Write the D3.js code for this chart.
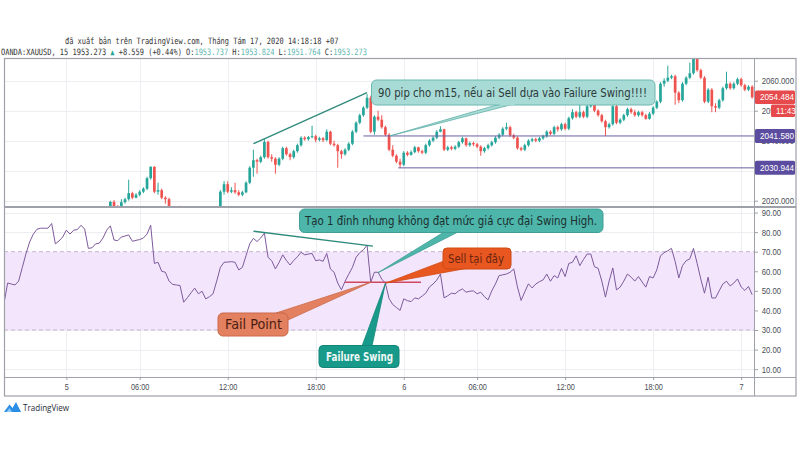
<!DOCTYPE html>
<html><head><meta charset="utf-8">
<script src="https://cdn.jsdelivr.net/npm/d3@7"></script>
<style>body{margin:0;background:#fff;}svg{display:block;}</style>
</head><body><svg id="c" width="800" height="450"></svg>
<script>
// ---------------- DATA ----------------
const opens = [1999,1998,2001,2000.8,2000.5,2001.5,2003.5,2006,2008.5,2010,2011,2011.5,2011.8,2012,2013.5,2011.5,2012,2012.8,2014,2013.5,2014.3,2014.6,2015.5,2015,2012.5,2012.7,2013.3,2013.5,2014.5,
2017,2019.6,2018,2017.8,2019.5,2020.5,2022.5,2021,2022,2023,2024,2027.5,2031.3,2023,2023.5,2021,2020.5,2017.5,2016.5,2016,2015.8,2011,2012,2013,2014,2012.5,2013,2011,2011.5,2012.5,
2016,2023,2025.5,2023,2023.5,2022.8,2022,2022.8,2026,2031,2033.5,2033,2034.5,2039.6,2034.5,2034,2032,2034,2037.5,2035.5,2034.5,2036.5,2038.5,2041,2040.5,2041.2,2041.5,2040.3,2040.8,2040.2,2043,2039,2038.5,2036.5,2035.5,2037,2039,2043,2046,2048.5,2051,
2054.3,2043,2048,2047,2044.5,2042,2037,2035,2033,2032,2036,2035.3,2036.2,2037.8,2036.5,2036,2038.5,2040,2041,2043,2043.8,2037,2037.8,2037.3,2038,2039.5,2040.8,2038.5,2039.2,2038.8,2038,2036.5,2037.5,2038.5,2039.5,2041,2042,2044,2044.5,2041.8,
2041,2037.5,2037,2038.5,2040,2040.5,2040,2040.8,2041.5,2043,2042.3,2044.5,2043.8,2045.5,2044,2047.5,2049.5,2048,2049.5,2048,2051.5,2053.5,2050,2048.5,2046.5,2044.5,2045.5,2051.5,2046,2047,2048.5,2050.5,2049.5,2048.5,2049.5,2048.5,2047.3,2049,2051,2053,
2059,2060,2061,2061.5,2056,2053.5,2059,2061,2062.5,2068,2063.5,2061,2053,2057,2051.5,2051,2053.5,2057.5,2059,2057.5,2059,2060.5,2058.5,2057,2058];
const highs = [1999.6,2001.6,2001.6,2001.4,2002.1,2004.1,2006.6,2009.1,2010.6,2011.6,2012.1,2012.4,2012.6,2014.1,2014.1,2012.6,2013.4,2014.6,2014.6,2014.9,2015.2,2016.1,2016.1,2015.6,2013.3,2013.9,2014.1,2015.1,2017.6,
2020,2020.2,2018.5,2020.5,2021,2027,2023,2022.5,2023.5,2024.5,2028,2031.5,2031.5,2026,2024,2021.5,2021,2018.2,2017,2018.3,2016.2,2012.5,2013.5,2014.5,2014.5,2013.5,2013.5,2012,2013,2016.5,
2023.5,2026.5,2026.5,2024.5,2026,2023.5,2023.3,2026.5,2031.5,2037,2034,2035,2040.5,2040,2035.5,2034.5,2034.5,2038,2038,2036,2037,2039,2041.5,2041.5,2041.6,2045,2042,2041.3,2041.2,2043.8,2043.3,2040,2039,2037,2037.5,2039.5,2043.5,2046.5,2049,2051.5,2055.5,
2055,2048.5,2050,2048.5,2045,2042.5,2038.5,2035.5,2034,2036.5,2036.5,2036.8,2038.3,2038,2037,2039,2040.5,2041.5,2043.5,2044.8,2044,2038.3,2038.3,2038.5,2040,2041.3,2041,2039.7,2039.7,2039.3,2038.5,2038,2039,2040,2041.5,2042.5,2044.5,2046,2045,2042.3,
2041.5,2038,2039,2040.5,2041,2041,2041.3,2042,2043.5,2043.5,2045,2045,2046,2046,2048,2050.5,2050,2052,2050,2054.6,2054,2054,2050.5,2049,2047,2046,2052,2052,2047.5,2049,2051,2051,2050.3,2050,2050,2049,2049.5,2051.5,2053.5,2059.5,
2060.8,2065,2062,2062,2056.5,2059.5,2061.5,2066,2069,2069,2064,2061.5,2057.5,2057.5,2052.5,2054,2058,2063,2059.5,2059.5,2061,2061,2059,2058.5,2058.5];
const lows = [1997.4,1997.4,2000.2,1999.9,1999.9,2000.9,2002.9,2005.4,2007.9,2009.4,2010.4,2010.9,2011.2,2011.4,2010.9,2010.9,2011.4,2012.2,2012.9,2012.9,2013.7,2014,2014.4,2011.9,2011.9,2012.1,2012.7,2012.9,2013.9,
2016.5,2017.5,2016.5,2017.5,2019,2020,2020.5,2020.8,2021.5,2022.5,2023.5,2027,2022.5,2022,2020.5,2019,2016.5,2015,2015.5,2015.3,2010.5,2010.5,2011.5,2012.5,2012,2012,2010.5,2010.5,2011,2012,
2015.5,2022,2022.5,2022.5,2022.3,2021.5,2021.5,2022.5,2025.5,2028,2029,2032.5,2034,2034,2033,2029,2031.5,2033.5,2035,2033.5,2034,2036,2038,2040,2040,2040.8,2039.5,2039.8,2039.5,2039.8,2038.5,2038,2031,2034,2035,2036.5,2038.5,2042.5,2045.5,2048,2050.5,
2042.5,2042,2046.5,2044,2041.5,2036.5,2034.5,2032.5,2030.9,2031.5,2034.8,2035,2035.8,2036,2035.5,2035.5,2038,2039.5,2040.5,2042.8,2036.5,2036.5,2036.8,2036.8,2037.5,2039,2038,2038,2038.2,2037.5,2035,2036,2037,2038,2039,2040.5,2041.5,2043.5,2041.3,2040.5,
2037,2036.5,2036.5,2038,2039.5,2039.5,2039.5,2040.3,2041,2041.8,2041.8,2043,2043.3,2043.5,2043.5,2047,2047.5,2047.5,2047.5,2047.5,2051,2049.5,2048,2046,2041.6,2044,2045,2045.5,2045.5,2046.5,2048,2049,2048,2048,2048,2047,2047,2048.5,2050.5,2052.5,
2058,2059.5,2060.5,2052,2052.5,2053,2058.5,2060.5,2062,2063,2060.5,2052.5,2052.5,2049.5,2049.5,2050.5,2053,2057,2057,2057,2058.5,2058,2056.5,2056.5,2054];
const closes = [1998,2001,2000.8,2000.5,2001.5,2003.5,2006,2008.5,2010,2011,2011.5,2011.8,2012,2013.5,2011.5,2012,2012.8,2014,2013.5,2014.3,2014.6,2015.5,2015,2012.5,2012.7,2013.3,2013.5,2014.5,2017,
2019.6,2018,2017.8,2019.5,2020.5,2022.5,2021,2022,2023,2024,2027.5,2031.3,2023,2023.5,2021,2020.5,2017.5,2016.5,2016,2015.8,2011,2012,2013,2014,2012.5,2013,2011,2011.5,2012.5,2016,
2023,2025.5,2023,2023.5,2022.8,2022,2022.8,2026,2031,2033.5,2033,2034.5,2039.6,2034.5,2034,2032,2034,2037.5,2035.5,2034.5,2036.5,2038.5,2041,2040.5,2041.2,2041.5,2040.3,2040.8,2040.2,2043,2039,2038.5,2036.5,2035.5,2037,2039,2043,2046,2048.5,2051,2054.3,
2043,2048,2047,2044.5,2042,2037,2035,2033,2032,2036,2035.3,2036.2,2037.8,2036.5,2036,2038.5,2040,2041,2043,2043.8,2037,2037.8,2037.3,2038,2039.5,2040.8,2038.5,2039.2,2038.8,2038,2036.5,2037.5,2038.5,2039.5,2041,2042,2044,2044.5,2041.8,2041,
2037.5,2037,2038.5,2040,2040.5,2040,2040.8,2041.5,2043,2042.3,2044.5,2043.8,2045.5,2044,2047.5,2049.5,2048,2049.5,2048,2051.5,2053.5,2050,2048.5,2046.5,2044.5,2045.5,2051.5,2046,2047,2048.5,2050.5,2049.5,2048.5,2049.5,2048.5,2047.3,2049,2051,2053,2059,
2060,2061,2061.5,2056,2053.5,2059,2061,2062.5,2068,2063.5,2061,2053,2057,2051.5,2051,2053.5,2057.5,2059,2057.5,2059,2060.5,2058.5,2057,2058,2054.484];
const rsiValues = [43.7,54,53.5,53,55,62,69,75,79,81.5,82,82,82,84.4,74,75.5,77.5,81,79,81,
81.3,83.5,81.5,71.7,72,74,74.4,77,81,83.2,76,75.6,77.5,78,78.6,75.3,75.8,76.2,77,79,
83.5,64,64.6,60,59.5,55,53.3,53,52.7,44.2,46.5,49,51.4,48.5,49.8,45.9,47,48.5,55,62,
64.6,64.7,64.9,64.6,60.7,62,68,74,76.8,75.2,77,79.5,67.1,65.4,61.2,64.5,68.4,65.5,63.2,65.5,
67.4,69.7,68.4,68.8,69.1,65.4,65.8,65.1,69.1,61.2,59.5,54,50.5,54.9,58.5,62,67.1,69.5,71,73.3,
54.4,59.5,59.5,56,53.9,46,43,41.5,40,45.9,45,44.5,46.4,45.9,47.3,48.8,52,53.5,55.5,58.6,
46.4,47.5,48.8,48.5,50,51,49.3,49.8,50,48.5,49.3,47,45.4,50,53.5,57.8,58.2,58.6,59.5,61.2,
52,45.1,49.5,53.6,51.5,53.5,54.7,55.6,58.6,54.9,57.8,56.6,61.5,57.3,64,64.6,67.9,62.9,66,68.8,
68.8,62.3,61.5,55,46.8,55,61.7,50.5,51.9,55,58.6,57,55,57.3,54.5,51.9,57.3,56.6,60.7,67.9,
69.5,70.5,71.7,65,56.6,62.9,65.4,66.3,71.7,64,56,48.8,57,46.4,46.3,50,53.5,54.9,52.5,54,
56.1,52,50.2,52.2,48];
const timeTickIndex = [17,37,61,85,109,129,153,177,201];
const timeTickLabels = ["5","06:00","12:00","18:00","6","06:00","12:00","18:00","7"];
const priceTicks = [2020,2030,2040,2050,2060];
const rsiTicks = [10,20,30,40,50,60,70,80,90];
const rsiBand = [30,70];
const levelPrices = [2041.580,2030.944];
const levelStartIndex = [98,107.5];
const lastPrice = 2054.484;
const countdown = "11:43";
const priceTrend = [[68,2039],[99,2056]];
const rsiTrend = [[68,80.5],[100.6,72.9]];
const sellLine = [[93,54.4],[113.7,54.4]];
const headerLine1 = "đã xuất bản trên TradingView.com, Tháng Tám 17, 2020 14:18:18 +07";
const headerParts = [["OANDA:XAUUSD, 15 1953.273 ","#333"],["▲","#26a69a"],[" +8.559 (+0.44%) O:","#333"],["1953.737","#5fb8b0"],[" H:","#333"],["1953.824","#5fb8b0"],[" L:","#333"],["1951.764","#5fb8b0"],[" C:","#333"],["1953.273","#5fb8b0"]];

// ---------------- LAYOUT ----------------
const svg = d3.select("#c");
const L = 4, R = 754, RF = 796, PT = 58.5, PB = 207, RT = 207, RB = 377, TB = 396;
const x = d3.scaleLinear().domain([0, 204.5]).range([L, R]);
const yP = d3.scaleLinear().domain([2020, 2060]).range([200.7, 80.7]);
const yR = d3.scaleLinear().domain([30, 70]).range([330, 251.7]);
const UP = "#26a69a", DN = "#ef5350";

const defs = svg.append("defs");
defs.append("clipPath").attr("id","cp").append("rect").attr("x",L).attr("y",PT).attr("width",R-L).attr("height",PB-PT);
defs.append("clipPath").attr("id","cr").append("rect").attr("x",L).attr("y",RT).attr("width",R-L).attr("height",RB-RT);

// header
const h1 = svg.append("g").attr("transform","translate(65,43.5) scale(0.8,1)");
h1.append("text").attr("font-family","DejaVu Sans Mono").attr("font-size",8.75).attr("fill","#333").text(headerLine1);
const h2 = svg.append("g").attr("transform","translate(1,55) scale(0.8,1)")
  .append("text").attr("font-family","DejaVu Sans Mono").attr("font-size",8.75).attr("xml:space","preserve");
headerParts.forEach(p => h2.append("tspan").attr("fill",p[1]).text(p[0]));

// grids
const grid = svg.append("g").attr("stroke","#eceef2").attr("stroke-width",1);
priceTicks.forEach(v => grid.append("line").attr("x1",L).attr("x2",R).attr("y1",Math.round(yP(v))+0.5).attr("y2",Math.round(yP(v))+0.5));
rsiTicks.forEach(v => grid.append("line").attr("x1",L).attr("x2",R).attr("y1",Math.round(yR(v))+0.5).attr("y2",Math.round(yR(v))+0.5));
timeTickIndex.forEach(i => grid.append("line").attr("x1",Math.round(x(i))+0.5).attr("x2",Math.round(x(i))+0.5).attr("y1",PT).attr("y2",RB));

// RSI band
const rg = svg.append("g").attr("clip-path","url(#cr)");
rg.append("rect").attr("x",L).attr("width",R-L).attr("y",yR(rsiBand[1])).attr("height",yR(rsiBand[0])-yR(rsiBand[1])).attr("fill","#f3e6fc");
rsiBand.forEach(v => rg.append("line").attr("x1",L).attr("x2",R).attr("y1",yR(v)).attr("y2",yR(v))
  .attr("stroke","#c3b4cc").attr("stroke-dasharray","4,3"));

// candles
const cg = svg.append("g").attr("clip-path","url(#cp)");
const idx = d3.range(closes.length);
cg.selectAll("line.w").data(idx).join("line").attr("class","w")
  .attr("x1",i=>x(i)).attr("x2",i=>x(i)).attr("y1",i=>yP(highs[i])).attr("y2",i=>yP(lows[i]))
  .attr("stroke",i=>closes[i]>=opens[i]?UP:DN).attr("stroke-width",1);
cg.selectAll("rect.b").data(idx).join("rect").attr("class","b")
  .attr("x",i=>x(i)-1.35).attr("width",2.7)
  .attr("y",i=>yP(Math.max(opens[i],closes[i])))
  .attr("height",i=>Math.max(1,Math.abs(yP(opens[i])-yP(closes[i]))))
  .attr("fill",i=>closes[i]>=opens[i]?UP:DN);

// horizontal levels
levelPrices.forEach((p,k) => svg.append("line").attr("x1",x(levelStartIndex[k])).attr("x2",R)
  .attr("y1",yP(p)).attr("y2",yP(p)).attr("stroke","#6b5fa3").attr("stroke-width",1));

// price trendline
svg.append("line").attr("x1",x(priceTrend[0][0])).attr("y1",yP(priceTrend[0][1]))
  .attr("x2",x(priceTrend[1][0])).attr("y2",yP(priceTrend[1][1])).attr("stroke","#2f8a7c").attr("stroke-width",1.3);

// RSI line
rg.append("path").datum(idx).attr("fill","none").attr("stroke","#7d5a9c").attr("stroke-width",1)
  .attr("d", d3.line().x(i=>x(i)).y(i=>yR(rsiValues[i])));
svg.append("line").attr("x1",x(rsiTrend[0][0])).attr("y1",yR(rsiTrend[0][1]))
  .attr("x2",x(rsiTrend[1][0])).attr("y2",yR(rsiTrend[1][1])).attr("stroke","#2f8a7c").attr("stroke-width",1.3);
svg.append("line").attr("x1",x(sellLine[0][0])).attr("y1",yR(sellLine[0][1]))
  .attr("x2",x(sellLine[1][0])).attr("y2",yR(sellLine[1][1])).attr("stroke","#d04860").attr("stroke-width",1.6);

// callouts
function wedge(pts, fill, stroke){
  svg.append("polygon").attr("points",pts.map(p=>p.join(",")).join(" "))
    .attr("fill",fill).attr("stroke",stroke).attr("stroke-width",0.8).attr("stroke-linejoin","round");
}
function box(x0,y0,x1,y1,fill,stroke,rx){
  svg.append("rect").attr("x",x0).attr("y",y0).attr("width",x1-x0).attr("height",y1-y0).attr("rx",rx)
    .attr("fill",fill).attr("stroke",stroke).attr("stroke-width",1);
}
function label(tx,ty,str,size,fill,len,weight){
  svg.append("text").attr("x",tx).attr("y",ty).attr("font-family","DejaVu Sans").attr("font-size",size)
    .attr("font-weight",weight||"normal").attr("fill",fill).attr("textLength",len).attr("lengthAdjust","spacingAndGlyphs").text(str);
}
// callout 1
wedge([[500,104],[514,104],[x(105.2),yP(2041.58)]],"#a9dbd6","#5fb0a8");
box(371.5,80,655,105,"#a9dbd6","#6ab8b0",5);
svg.append("rect").attr("x",499.5).attr("y",103).attr("width",15).attr("height",2.5).attr("fill","#a9dbd6");
label(378,96.5,"90 pip cho m15, nếu ai Sell dựa vào Failure Swing!!!!",12,"#2b3a3a",269);
// callout 2
wedge([[444,232],[458,232],[x(102),yR(59.3)]],"#4db5aa","#3f9f95");
box(299.5,209,603,232.5,"#4db5aa","#3f9f95",5);
label(305,225,"Tạo 1 đỉnh nhưng không đạt mức giá cực đại Swing High.",12,"#1b2f2e",292);
// sell
wedge([[444,261],[466,268.5],[x(104),yR(53.9)]],"#e8571f","#d04a16");
box(443,248,511,269,"#e8571f","#cf4a15",4);
label(448,262.5,"Sell tại đây",11.5,"#6a2411",56);
// fail point
wedge([[276,313],[288,320],[x(100),yR(54.4)]],"#e3805f","#c9694a");
box(218,313,288,336,"#e3805f","#c9694a",5);
label(225,329,"Fail Point",14,"#4b1d12",57);
// failure swing
wedge([[362,346],[372,346],[x(104),yR(53.9)]],"#189a8b","#12867a");
box(319,345.5,399,367.5,"#189a8b","#12867a",4);
label(326,361,"Failure Swing",12,"#eef8f6",67,"bold");

// frame
const fr = svg.append("g").attr("fill","none").attr("stroke","#9ea1a9");
fr.append("rect").attr("x",L+0.5).attr("y",PT).attr("width",RF-L-0.5).attr("height",TB-PT).attr("stroke-width",1.2);
fr.append("line").attr("x1",R+0.5).attr("x2",R+0.5).attr("y1",PT).attr("y2",TB);
fr.append("line").attr("x1",L).attr("x2",RF).attr("y1",PB).attr("y2",PB).attr("stroke-width",2);
fr.append("line").attr("x1",L).attr("x2",RF).attr("y1",RB+0.5).attr("y2",RB+0.5);

// axes
const axFont = g => { g.select(".domain").remove(); g.selectAll("line").attr("stroke","#9ea1a9");
  g.selectAll("text").attr("font-family","Liberation Sans").attr("font-size",9).attr("fill","#4a4d55"); };
const pAx = svg.append("g").attr("transform",`translate(${R},0)`)
  .call(d3.axisRight(yP).tickValues(priceTicks).tickFormat(d3.format(".3f")).tickSize(4).tickPadding(4)).call(axFont);
pAx.selectAll("text").attr("transform","scale(0.86,1)").attr("x",9);
const rAx = svg.append("g").attr("transform",`translate(${R},0)`)
  .call(d3.axisRight(yR).tickValues(rsiTicks).tickFormat(d3.format(".2f")).tickSize(4).tickPadding(4)).call(axFont);
rAx.selectAll("text").attr("transform","scale(0.86,1)").attr("x",9);
const tAx = svg.append("g").attr("transform",`translate(0,${RB})`)
  .call(d3.axisBottom(x).tickValues(timeTickIndex).tickFormat((d,k)=>timeTickLabels[k]).tickSize(3).tickPadding(4)).call(axFont);
tAx.selectAll("text").attr("transform","scale(0.82,1)");

// price tags
function tag(x0,yc,w,hgt,fill,str){
  svg.append("rect").attr("x",x0).attr("y",yc-hgt/2).attr("width",w).attr("height",hgt).attr("rx",1.5).attr("fill",fill);
  svg.append("g").attr("transform",`translate(${x0+5},${yc+3.2}) scale(0.86,1)`).append("text")
    .attr("font-family","Liberation Sans").attr("font-size",9.5).attr("fill","#fff").text(str);
}
tag(R+1, yP(lastPrice), 40, 13.5, "#e64a4c", d3.format(".3f")(lastPrice));
tag(R+17, yP(lastPrice)+13.5, 24, 12.5, "#e64a4c", countdown);
levelPrices.forEach(p => tag(R+1, yP(p), 40, 14, "#5b4c9f", d3.format(".3f")(p)));

// logo
const lg = svg.append("g");
lg.append("path").attr("d","M4,412 L9.5,404.5 L12.5,408 L16,402 L21,412 Z").attr("fill","#2a8ee6");
lg.append("path").attr("d","M6.5,412 L9.5,408 L12,412 Z").attr("fill","#8cc9f5");
svg.append("g").attr("transform","translate(23,411) scale(0.85,1)").append("text")
  .attr("font-family","Open Sans").attr("font-size",9.5).attr("fill","#1f2a36").text("TradingView");
</script></body></html>
